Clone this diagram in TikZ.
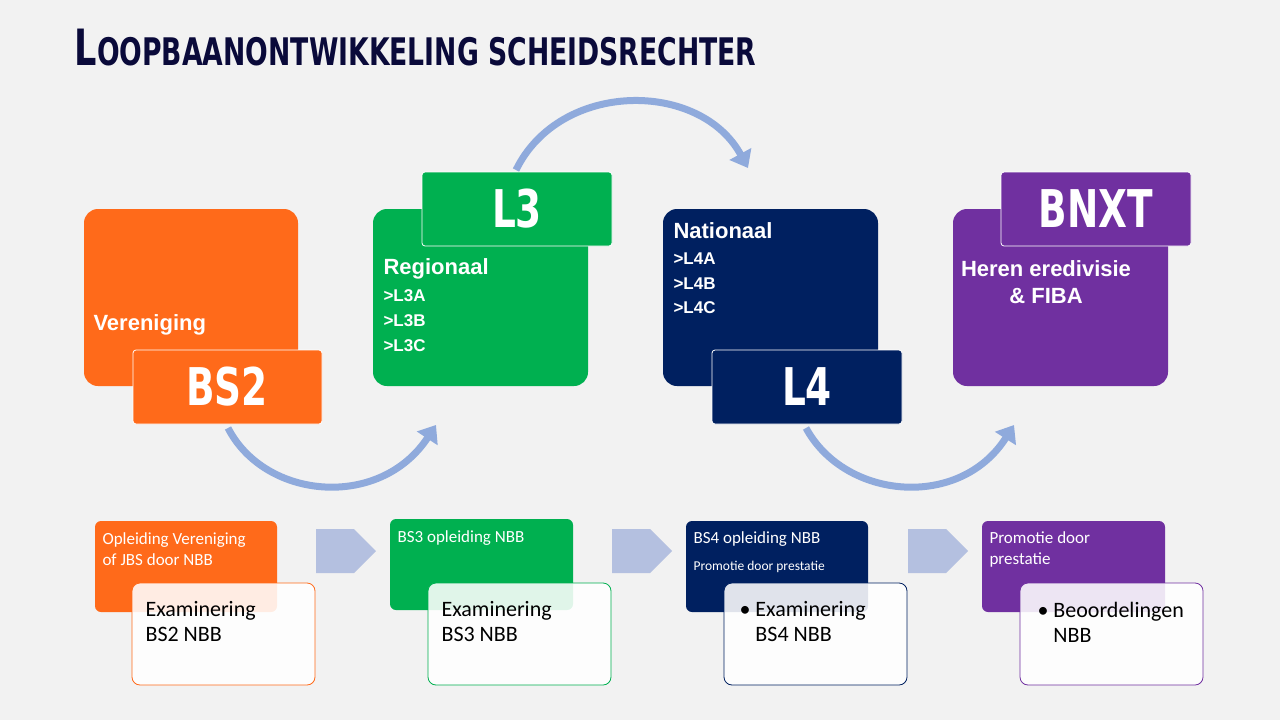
\documentclass[tikz,border=0pt]{standalone}
\usepackage{fontspec}
\setmainfont{Liberation Sans}
\newfontfamily\calib{Carlito}
\newfontfamily\cond{DejaVu Sans Condensed}
\usetikzlibrary{arrows.meta,shapes.arrows}
\definecolor{cor}{HTML}{FF6A1A}
\definecolor{cgr}{HTML}{00B050}
\definecolor{cnv}{HTML}{002060}
\definecolor{cpu}{HTML}{7030A0}
\definecolor{ctl}{HTML}{0A0A3A}
\definecolor{carc}{HTML}{8FAADC}
\definecolor{cblk}{HTML}{B4C0E0}
\definecolor{cbg}{HTML}{F2F2F2}
\tikzset{
 big/.style={rounded corners=14pt},
 tag/.style={draw=white,line width=0.8pt,rounded corners=3pt},
 tagtxt/.style={text=white,font=\cond\bfseries\fontsize{52}{52}\selectfont,xscale=0.8},
 lbl/.style={text=white,anchor=west,font=\bfseries\fontsize{22}{24}\selectfont},
 sub/.style={text=white,anchor=west,font=\bfseries\fontsize{17}{20}\selectfont},
 arc/.style={carc,line width=7pt,-{Triangle[length=16pt,width=24pt]}},
 bx/.style={rounded corners=6pt},
 wb/.style={rounded corners=8pt,fill=white,fill opacity=0.88,line width=0.8pt},
 btxt/.style={anchor=west,font=\calib\fontsize{17}{21}\selectfont,text=white,align=left},
 etxt/.style={anchor=west,font=\calib\fontsize{22}{25}\selectfont,align=left,text=black},
 blk/.style={single arrow,fill=cblk,minimum height=60pt,minimum width=44pt,single arrow head extend=0pt,inner sep=0pt,single arrow tip angle=90}
}
\begin{document}
\begin{tikzpicture}[x=1pt,y=-1pt]
\fill[cbg] (0,0) rectangle (1280,720);
\useasboundingbox (0,0) rectangle (1280,720);
\node[anchor=west,text=ctl,font=\cond\bfseries,xscale=0.78] (title) at (72,48) {\fontsize{50}{50}\selectfont L\fontsize{38}{38}\selectfont OOPBAANONTWIKKELING SCHEIDSRECHTER};
% top boxes
\fill[cor,big] (84,209) rectangle (298,386);
\node[lbl] (ver) at (90,325) {Vereniging};
\draw[fill=cor,tag] (133,350) rectangle (322,424);
\node[tagtxt] (bs2) at (227,387) {BS2};
\fill[cgr,big] (373,209) rectangle (588,386);
\draw[fill=cgr,tag] (422,172) rectangle (612,246);
\node[tagtxt] (l3) at (517,209) {L3};
\node[lbl] (reg) at (380,269) {Regionaal};
\node[sub] (l3a) at (380,296) {>L3A};
\node[sub] (l3b) at (380,321) {>L3B};
\node[sub] (l3c) at (380,346) {>L3C};
\fill[cnv,big] (663,209) rectangle (878,386);
\node[lbl] (nat) at (670,231) {Nationaal};
\node[sub] (l4a) at (670,259) {>L4A};
\node[sub] (l4b) at (670,284) {>L4B};
\node[sub] (l4c) at (670,308) {>L4C};
\draw[fill=cnv,tag] (712,350) rectangle (902,424);
\node[tagtxt] (l4) at (807,387) {L4};
\fill[cpu,big] (953,209) rectangle (1168,386);
\draw[fill=cpu,tag] (1001,172) rectangle (1191,246);
\node[tagtxt] (bnxt) at (1096,209) {BNXT};
\node[text=white,font=\bfseries\fontsize{22}{27}\selectfont,align=center] (her) at (1046,282) {Heren eredivisie\\\& FIBA};
% arcs
\coordinate (a1s) at (228,428); \coordinate (a1e) at (436,425);
\draw[arc] (a1s) .. controls (265,500) and (380,510) .. (a1e);
\coordinate (a2s) at (516,170); \coordinate (a2e) at (748,168);
\draw[arc] (a2s) .. controls (560,80) and (700,80) .. (a2e);
\coordinate (a3s) at (806,428); \coordinate (a3e) at (1014,425);
\draw[arc] (a3s) .. controls (845,500) and (960,510) .. (a3e);
% bottom
\fill[cor,bx] (95,521) rectangle (277,612);
\node[btxt] (t1) at (99,549) {Opleiding Vereniging\\of JBS door NBB};
\draw[wb,draw=cor] (132,583) rectangle (315,685);
\node[etxt] (e1) at (142,622) {Examinering\\BS2 NBB};
\fill[cgr,bx] (390,519) rectangle (573,610);
\node[btxt] (t2) at (394,538) {BS3 opleiding NBB};
\draw[wb,draw=cgr] (428,583) rectangle (611,685);
\node[etxt] (e2) at (438,622) {Examinering\\BS3 NBB};
\fill[cnv,bx] (686,521) rectangle (868,612);
\node[btxt] (t3) at (690,539) {BS4 opleiding NBB};
\node[btxt,font=\calib\fontsize{13.5}{16}\selectfont] (t3b) at (690,567) {Promotie door prestatie};
\draw[wb,draw=cnv] (724,583) rectangle (907,685);
\node[etxt] (e3) at (736,622) {\textbullet\ Examinering\\\hphantom{\textbullet\ }BS4 NBB};
\fill[cpu,bx] (982,521) rectangle (1165,612);
\node[btxt] (t4) at (986,549) {Promotie door\\prestatie};
\draw[wb,draw=cpu] (1020,583) rectangle (1203,685);
\node[etxt] (e4) at (1034,622) {\textbullet\ Beoordelingen\\\hphantom{\textbullet\ }NBB};
% block arrows
\node[blk] (b1) at (335,551) {};
\node[blk] (b2) at (631,551) {};
\node[blk] (b3) at (927,551) {};
\end{tikzpicture}
\end{document}
